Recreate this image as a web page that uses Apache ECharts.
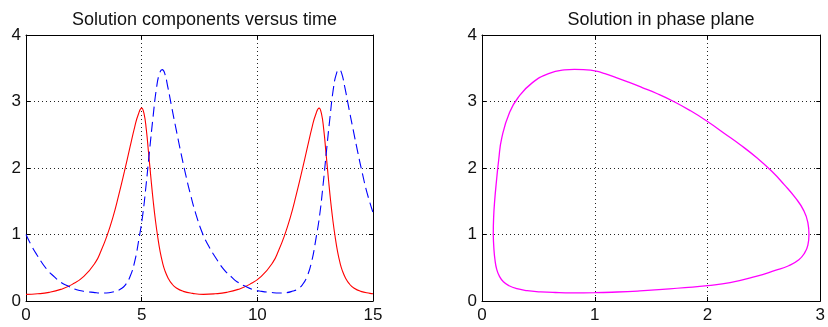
<!DOCTYPE html>
<html>
<head>
<meta charset="utf-8">
<script src="https://cdn.jsdelivr.net/npm/echarts@6/dist/echarts.min.js"></script>
<style>
html,body{margin:0;padding:0;background:#fff;}
#chart{width:828px;height:327px;}
</style>
</head>
<body>
<div id="chart"></div>
<script>
// ---- Data ----
const titles = ['Solution components versus time', 'Solution in phase plane'];

const timeTicks = [0, 5, 10, 15];
const valueTicks = [0, 1, 2, 3, 4];
const phaseTicks = [0, 1, 2, 3];

// red solid component y1(t)
const redT = [0, 0.5, 1.0, 1.5, 2.0, 2.5, 3.0, 3.25, 3.5, 3.75, 4.0, 4.25, 4.5, 4.7, 4.85, 5.0,
              5.1, 5.2, 5.3, 5.4, 5.5, 5.6, 5.7, 5.8, 5.9, 6.0, 6.15, 6.3, 6.5, 6.8, 7.2, 7.67,
              8.17, 8.67, 9.17, 9.67, 10.17, 10.67, 10.92, 11.17, 11.42, 11.67, 11.92, 12.17, 12.37, 12.52, 12.67,
              12.77, 12.87, 12.97, 13.07, 13.17, 13.27, 13.37, 13.47, 13.57, 13.67, 13.82, 13.97, 14.17, 14.47, 14.87, 15.0];
const redV = [0.10, 0.108, 0.13, 0.175, 0.25, 0.37, 0.58, 0.76, 0.98, 1.25, 1.58, 1.94, 2.32, 2.62, 2.80, 2.90,
              2.82, 2.58, 2.22, 1.85, 1.50, 1.20, 0.95, 0.74, 0.58, 0.46, 0.34, 0.26, 0.195, 0.145, 0.115, 0.10,
              0.108, 0.13, 0.175, 0.25, 0.37, 0.58, 0.76, 0.98, 1.25, 1.58, 1.94, 2.32, 2.62, 2.80, 2.90,
              2.82, 2.58, 2.22, 1.85, 1.50, 1.20, 0.95, 0.74, 0.58, 0.46, 0.34, 0.26, 0.195, 0.145, 0.115, 0.11];

// blue dashed component y2(t)
const blueT = [0, 0.24, 0.46, 0.89, 1.24, 1.47, 1.84, 2.19, 2.54, 2.91, 3.3, 3.59, 3.89, 4.09, 4.29, 4.49, 4.69, 4.89, 5.04, 5.19, 5.34, 5.49, 5.64, 5.77, 5.89,
               5.99, 6.14, 6.29, 6.49, 6.69, 6.89, 7.09, 7.35, 7.65, 7.89, 8.11, 8.54, 8.89, 9.12, 9.49, 9.84, 10.19, 10.56, 10.95, 11.24,
               11.54, 11.74, 11.94, 12.14, 12.34, 12.54, 12.69, 12.84, 12.99, 13.14, 13.29, 13.42, 13.54,
               13.64, 13.79, 13.94, 14.14, 14.34, 14.54, 14.74, 15.0];
const blueV = [1.00, 0.83, 0.70, 0.48, 0.36, 0.29, 0.22, 0.17, 0.145, 0.13, 0.12, 0.125, 0.15, 0.18, 0.24, 0.36, 0.58, 0.95, 1.28, 1.74, 2.26, 2.76, 3.20, 3.42, 3.48,
               3.43, 3.20, 2.93, 2.58, 2.24, 1.92, 1.63, 1.30, 1.00, 0.83, 0.70, 0.48, 0.36, 0.29, 0.22, 0.17, 0.145, 0.13, 0.12, 0.125,
               0.15, 0.18, 0.24, 0.36, 0.58, 0.95, 1.28, 1.74, 2.26, 2.76, 3.20, 3.42, 3.48,
               3.43, 3.20, 2.93, 2.58, 2.24, 1.92, 1.63, 1.33];

// phase plane loop (y1, y2)
const phaseX = [0.10, 0.105, 0.115, 0.13, 0.155, 0.19, 0.24, 0.31, 0.40, 0.52, 0.65, 0.80, 1.00, 1.20, 1.40, 1.60, 1.80, 2.00, 2.20, 2.43, 2.60, 2.72, 2.81, 2.86, 2.89, 2.90,
                2.89, 2.85, 2.78, 2.68, 2.57, 2.44, 2.29, 2.15, 2.00, 1.85, 1.70, 1.55, 1.42, 1.30, 1.19, 1.09, 1.00, 0.90, 0.82, 0.73, 0.59, 0.445, 0.33, 0.245,
                0.175, 0.148, 0.128, 0.112, 0.103, 0.10];
const phaseY = [1.00, 0.80, 0.62, 0.48, 0.37, 0.29, 0.23, 0.185, 0.155, 0.138, 0.128, 0.123, 0.125, 0.135, 0.152, 0.175, 0.20, 0.23, 0.275, 0.37, 0.46, 0.53, 0.62, 0.72, 0.84, 1.00,
                1.18, 1.37, 1.55, 1.75, 1.95, 2.15, 2.35, 2.52, 2.70, 2.86, 3.00, 3.12, 3.21, 3.29, 3.36, 3.42, 3.46, 3.478, 3.483, 3.475, 3.42, 3.28, 3.08, 2.84,
                2.45, 2.12, 1.80, 1.50, 1.25, 1.00];

// ---- Chart ----
const zip = (a, b) => a.map((v, i) => [v, b[i]]);
const FONT = '"Liberation Sans", Arial, Helvetica, sans-serif';
const txt = '#111';

function mainX(gi, ticks) {
  return {
    gridIndex: gi, type: 'value', min: ticks[0], max: ticks[ticks.length - 1], interval: ticks[1] - ticks[0],
    axisLine: { show: true, onZero: false, lineStyle: { color: '#000', width: 1 } },
    axisTick: { show: true, inside: true, length: 4, lineStyle: { color: '#000' } },
    axisLabel: { show: true, color: txt, fontSize: 17, fontFamily: FONT, margin: 6, showMaxLabel: true, showMinLabel: true },
    splitLine: { show: true, lineStyle: { color: '#222', width: 1, type: [1, 3] } }
  };
}
function mainY(gi, ticks) {
  return {
    gridIndex: gi, type: 'value', min: ticks[0], max: ticks[ticks.length - 1], interval: ticks[1] - ticks[0],
    axisLine: { show: true, onZero: false, lineStyle: { color: '#000', width: 1 } },
    axisTick: { show: true, inside: true, length: 4, lineStyle: { color: '#000' } },
    axisLabel: { show: true, color: txt, fontSize: 17, fontFamily: FONT, margin: 5 },
    splitLine: { show: true, lineStyle: { color: '#222', width: 1, type: [1, 3] } }
  };
}
function mirror(gi, ticks, pos) {
  return {
    gridIndex: gi, type: 'value', position: pos, min: ticks[0], max: ticks[ticks.length - 1], interval: ticks[1] - ticks[0],
    axisLine: { show: true, onZero: false, lineStyle: { color: '#000', width: 1 } },
    axisTick: { show: true, inside: true, length: 4, lineStyle: { color: '#000' } },
    axisLabel: { show: false }, splitLine: { show: false }
  };
}

const option = {
  animation: false,
  backgroundColor: '#fff',
  title: [
    { text: titles[0], left: 199.5, top: 6, textAlign: 'center', textStyle: { fontSize: 18, fontWeight: 'normal', color: txt, fontFamily: FONT } },
    { text: titles[1], left: 656, top: 6, textAlign: 'center', textStyle: { fontSize: 18, fontWeight: 'normal', color: txt, fontFamily: FONT } }
  ],
  grid: [
    { left: 26, right: 455, top: 35, bottom: 26, containLabel: false },
    { left: 482, right: -2, top: 35, bottom: 26, containLabel: false }
  ],
  xAxis: [
    mainX(0, timeTicks),
    mainX(1, phaseTicks),
    mirror(0, timeTicks, 'top'),
    mirror(1, phaseTicks, 'top')
  ],
  yAxis: [
    mainY(0, valueTicks),
    mainY(1, valueTicks),
    mirror(0, valueTicks, 'right'),
    mirror(1, valueTicks, 'right')
  ],
  series: [
    { type: 'line', xAxisIndex: 0, yAxisIndex: 0, data: zip(redT, redV), showSymbol: false, smooth: 0.5,
      lineStyle: { color: '#ff0000', width: 1.1 }, z: 3 },
    { type: 'line', xAxisIndex: 0, yAxisIndex: 0, data: zip(blueT, blueV), showSymbol: false, smooth: 0.5,
      lineStyle: { color: '#0000ff', width: 1.1, type: [10, 5] }, z: 3 },
    { type: 'line', xAxisIndex: 1, yAxisIndex: 1, data: zip(phaseX, phaseY), showSymbol: false, smooth: 0.5,
      lineStyle: { color: '#ff00ff', width: 1.3 }, z: 3 }
  ]
};

const chart = echarts.init(document.getElementById('chart'), null, { renderer: 'canvas', width: 828, height: 327 });
chart.setOption(option);
</script>
</body>
</html>
